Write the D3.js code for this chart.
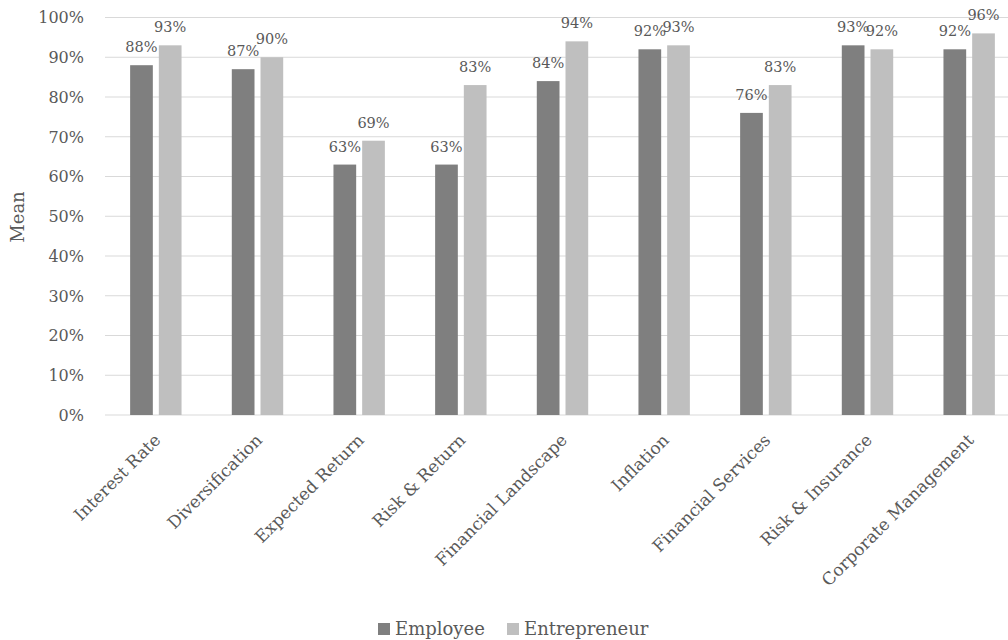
<!DOCTYPE html>
<html>
<head>
<meta charset="utf-8">
<script src="https://cdn.jsdelivr.net/npm/d3@7"></script>
<style>
  html, body { margin: 0; padding: 0; background: #fff; }
  svg { display: block; }
  text { font-family: "DejaVu Serif", "Liberation Serif", serif; fill: #595959; }
</style>
</head>
<body>
<svg id="chart" width="1008" height="640"></svg>
<script>
// Financial literacy topics, mean share of correct answers per group
const categories = ["Interest Rate", "Diversification", "Expected Return", "Risk & Return",
  "Financial Landscape", "Inflation", "Financial Services", "Risk & Insurance", "Corporate Management"];
const employee = [0.88, 0.87, 0.63, 0.63, 0.84, 0.92, 0.76, 0.93, 0.92];
const entrepreneur = [0.93, 0.90, 0.69, 0.83, 0.94, 0.93, 0.83, 0.92, 0.96];
const seriesNames = ["Employee", "Entrepreneur"];
const yTicks = [0, 0.1, 0.2, 0.3, 0.4, 0.5, 0.6, 0.7, 0.8, 0.9, 1.0];

const colors = ["#7f7f7f", "#bfbfbf"];
const svg = d3.select("#chart");

const plot = { left: 105, right: 1020, top: 17.5, bottom: 415 };

const x = d3.scaleBand().domain(categories).range([plot.left, plot.right]);
const y = d3.scaleLinear().domain([0, 1]).range([plot.bottom, plot.top]);

const barW = 22.7, gap = 6;
const pct = d3.format(".0%");

// horizontal gridlines
svg.append("g").selectAll("line").data(yTicks).join("line")
  .attr("x1", plot.left).attr("x2", plot.right)
  .attr("y1", d => y(d)).attr("y2", d => y(d))
  .attr("stroke", "#d9d9d9").attr("stroke-width", 1.2);

// y axis tick labels
const yAxis = d3.axisLeft(y).tickValues(yTicks).tickFormat(pct).tickSize(0).tickPadding(0);
const yg = svg.append("g").attr("transform", "translate(84,0)").call(yAxis);
yg.select(".domain").remove();
yg.selectAll("text").attr("font-size", 16).attr("fill", "#595959")
  .style("font-family", "DejaVu Serif, serif").attr("dy", "0.34em");

// y axis title
svg.append("text")
  .attr("transform", "translate(24,217) rotate(-90)")
  .attr("text-anchor", "middle")
  .attr("font-size", 18)
  .text("Mean");

const series = [employee, entrepreneur];
const offsets = [-gap / 2 - barW, gap / 2];

series.forEach((vals, si) => {
  const g = svg.append("g");
  g.selectAll("rect").data(vals).join("rect")
    .attr("x", (d, i) => x(categories[i]) + x.bandwidth() / 2 + offsets[si])
    .attr("y", d => y(d))
    .attr("width", barW)
    .attr("height", d => y(0) - y(d))
    .attr("fill", colors[si]);
  g.selectAll("text").data(vals).join("text")
    .attr("x", (d, i) => x(categories[i]) + x.bandwidth() / 2 + offsets[si] + barW / 2)
    .attr("y", d => y(d) - 13)
    .attr("text-anchor", "middle")
    .attr("font-size", 14.5)
    .text(d => pct(d));
});

// category labels, rotated
svg.append("g").selectAll("text").data(categories).join("text")
  .attr("transform", d => `translate(${x(d) + x.bandwidth() / 2 + 1.5},${plot.bottom + 22}) rotate(-45)`)
  .attr("text-anchor", "end")
  .attr("dy", "0.35em")
  .attr("font-size", 17)
  .text(d => d);

// legend
const legend = svg.append("g");
const legendItems = [
  { name: seriesNames[0], color: colors[0], x: 378 },
  { name: seriesNames[1], color: colors[1], x: 507 }
];
legendItems.forEach(it => {
  legend.append("rect").attr("x", it.x).attr("y", 623).attr("width", 12).attr("height", 12).attr("fill", it.color);
  legend.append("text").attr("x", it.x + 17).attr("y", 635).attr("font-size", 18).text(it.name);
});
</script>
</body>
</html>
